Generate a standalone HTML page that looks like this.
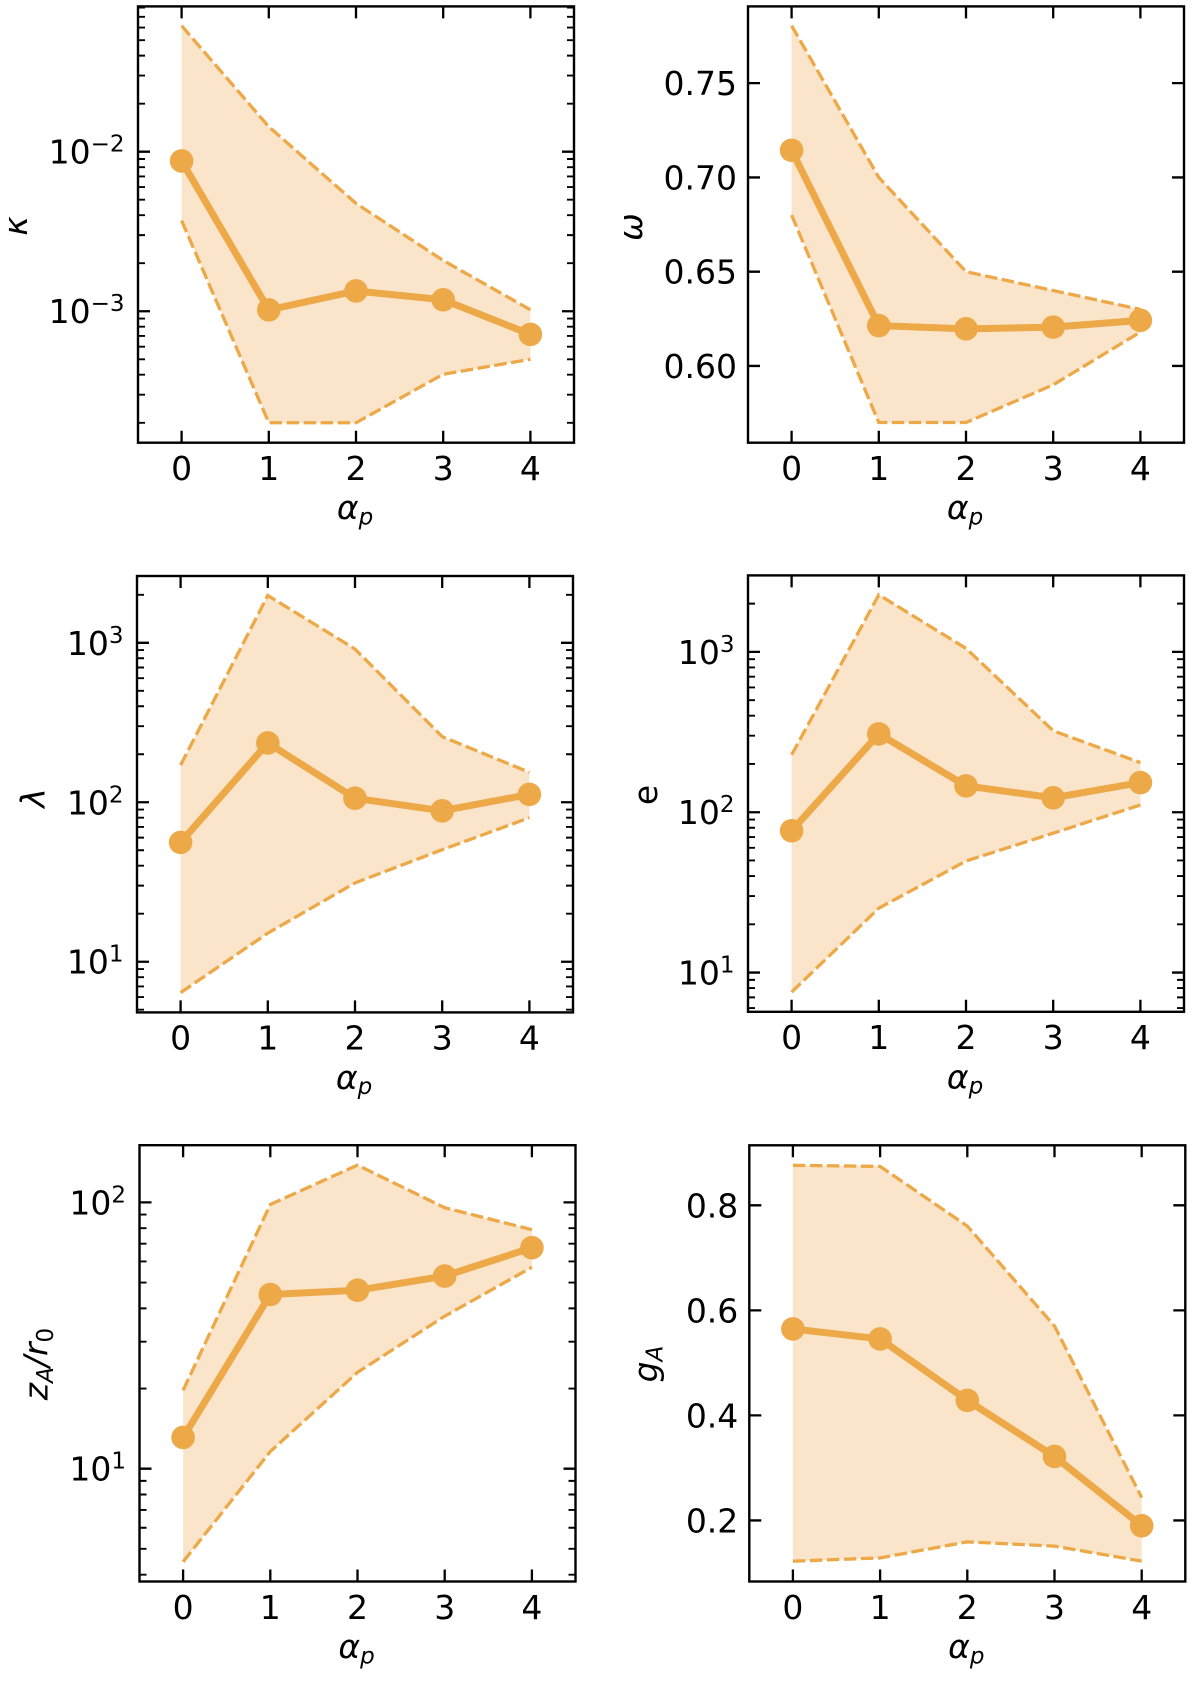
<!DOCTYPE html>
<html lang="en">
<head>
<meta charset="utf-8">
<title>Parameters versus alpha_p</title>
<style>
  html, body { margin: 0; padding: 0; background: #ffffff; }
  svg { display: block; }
  text { font-family: "DejaVu Sans", "Liberation Sans", sans-serif; fill: #000000; }
</style>
</head>
<body>
<svg id="figure" xmlns="http://www.w3.org/2000/svg" width="1200" height="1683" viewBox="0 0 1200 1683"></svg>
<script>
const alphaP = [0, 1, 2, 3, 4];
const xLimits = [-0.5, 4.5];

const kappaMean = [0.00875, 0.00102, 0.00134, 0.00118, 0.000716];
const kappaUpper = [0.0616, 0.01434, 0.00474, 0.00208, 0.00102];
const kappaLower = [0.0037, 0.0002, 0.0002, 0.000403, 0.0005];
const kappaLimits = [0.00015, 0.0814];
const kappaTicks = [-3, -2];

const omegaMean = [0.7144, 0.6214, 0.6197, 0.6206, 0.6242];
const omegaUpper = [0.7805, 0.70, 0.65, 0.64, 0.63];
const omegaLower = [0.68, 0.57, 0.57, 0.59, 0.618];
const omegaLimits = [0.5593, 0.7907];
const omegaTicks = ["0.60", "0.65", "0.70", "0.75"];

const lambdaMean = [56, 235.5, 106, 88.4, 112];
const lambdaUpper = [171, 1980, 914, 258, 154];
const lambdaLower = [6.4, 15.1, 31.2, 50.4, 80];
const lambdaLimits = [4.81, 2624];
const lambdaTicks = [1, 2, 3];

const eMean = [76.6, 308, 146, 123, 153];
const eUpper = [228, 2270, 1052, 322, 204];
const eLower = [7.55, 25.2, 49.6, 74, 111];
const eLimits = [5.69, 3000];
const eTicks = [1, 2, 3];

const zMean = [13.1, 45.1, 46.8, 52.9, 67.6];
const zUpper = [19.7, 98.2, 138, 95.5, 79];
const zLower = [4.47, 11.6, 23, 37.4, 57.1];
const zLimits = [3.77, 164];
const zTicks = [1, 2];

const gMean = [0.5646, 0.5456, 0.4286, 0.3218, 0.1898];
const gUpper = [0.8762, 0.8741, 0.7605, 0.5701, 0.2435];
const gLower = [0.1224, 0.1286, 0.1592, 0.151, 0.1224];
const gLimits = [0.0837, 0.9143];
const gTicks = ["0.2", "0.4", "0.6", "0.8"];

const panels = [
  { id: "kappa", box: [138, 574, 6.4, 442.7], scale: "log", mean: kappaMean, upper: kappaUpper, lower: kappaLower, limits: kappaLimits, ticks: kappaTicks, label: "κ", labelX: 27, labelY: 226 },
  { id: "omega", box: [748, 1184, 6.4, 442.7], scale: "linear", mean: omegaMean, upper: omegaUpper, lower: omegaLower, limits: omegaLimits, ticks: omegaTicks, label: "ω", labelX: 642, labelY: 227 },
  { id: "lambda", box: [137, 573, 576, 1012.4], scale: "log", mean: lambdaMean, upper: lambdaUpper, lower: lambdaLower, limits: lambdaLimits, ticks: lambdaTicks, label: "λ", labelX: 44.5, labelY: 798 },
  { id: "e", box: [748, 1184, 575.4, 1011.8], scale: "log", mean: eMean, upper: eUpper, lower: eLower, limits: eLimits, ticks: eTicks, label: "e", upright: true, labelX: 657, labelY: 795 },
  { id: "z-a", box: [139.5, 575.5, 1145.2, 1581.5], scale: "log", mean: zMean, upper: zUpper, lower: zLower, limits: zLimits, ticks: zTicks, label: "z", sub: "A", tail: "/r", tailSub: "0", labelX: 47.5, labelY: 1364 },
  { id: "g-a", box: [749.3, 1185.3, 1145.3, 1581.5], scale: "linear", mean: gMean, upper: gUpper, lower: gLower, limits: gLimits, ticks: gTicks, label: "g", sub: "A", labelX: 657, labelY: 1364 }
];

const ORANGE = "#eda848";
const FILL = "#fae5ca";
const SVG_NS = "http://www.w3.org/2000/svg";
const figure = document.getElementById("figure");

function make(tag, parent, attrs) {
  const node = document.createElementNS(SVG_NS, tag);
  for (const key in attrs) node.setAttribute(key, attrs[key]);
  parent.appendChild(node);
  return node;
}

function addSpan(parent, text, dy, size, italic) {
  const span = make("tspan", parent, { dy: dy });
  if (size) span.setAttribute("font-size", size);
  span.setAttribute("font-style", italic ? "italic" : "normal");
  span.textContent = text;
  return span;
}

function drawPanel(panel) {
  const [left, right, top, bottom] = panel.box;
  const isLog = panel.scale === "log";
  const xAxis = v => left + (v - xLimits[0]) / (xLimits[1] - xLimits[0]) * (right - left);
  const toY = v => isLog ? Math.log10(v) : v;
  const yMin = toY(panel.limits[0]);
  const yMax = toY(panel.limits[1]);
  const yAxis = v => bottom - (toY(v) - yMin) / (yMax - yMin) * (bottom - top);

  const group = make("g", figure, {});
  
  

  const upperPts = alphaP.map((a, i) => xAxis(a).toFixed(2) + "," + yAxis(panel.upper[i]).toFixed(2));
  const lowerPts = alphaP.map((a, i) => xAxis(a).toFixed(2) + "," + yAxis(panel.lower[i]).toFixed(2));
  const meanPts = alphaP.map((a, i) => xAxis(a).toFixed(2) + "," + yAxis(panel.mean[i]).toFixed(2));

  const band = make("polygon", group, { points: upperPts.concat(lowerPts.slice().reverse()).join(" "), fill: FILL });
  
  

  const upperLine = make("polyline", group, { points: upperPts.join(" "), fill: "none", stroke: ORANGE, "stroke-width": 3.3, "stroke-dasharray": "12.5 4.5" });
  
  

  const lowerLine = make("polyline", group, { points: lowerPts.join(" "), fill: "none", stroke: ORANGE, "stroke-width": 3.3, "stroke-dasharray": "12.5 4.5" });
  
  

  const meanLine = make("polyline", group, { points: meanPts.join(" "), fill: "none", stroke: ORANGE, "stroke-width": 7, "stroke-linejoin": "round" });
  
  

  alphaP.forEach((a, i) => {
    const point = make("circle", group, { cx: xAxis(a).toFixed(2), cy: yAxis(panel.mean[i]).toFixed(2), r: 11.8, fill: ORANGE });
    
    
  });

  alphaP.forEach(a => {
    const x = xAxis(a);
    const tick = make("path", group, { d: `M${x} ${bottom}V${bottom - 12}M${x} ${top}V${top + 12}`, stroke: "#000", "stroke-width": 2.3, fill: "none" });
    
    
    const label = make("text", group, { x: x, y: bottom + 37.3, "font-size": 33, "text-anchor": "middle" });
    
    
    label.textContent = a;
  });

  if (isLog) {
    const firstDecade = Math.floor(yMin);
    const lastDecade = Math.ceil(yMax);
    for (let d = firstDecade; d <= lastDecade; d++) {
      for (let m = 2; m <= 9; m++) {
        const value = m * Math.pow(10, d);
        if (value < panel.limits[0] || value > panel.limits[1]) continue;
        const y = yAxis(value);
        const minor = make("path", group, { d: `M${left} ${y}H${left + 7}M${right} ${y}H${right - 7}`, stroke: "#000", "stroke-width": 1.9, fill: "none" });
        
        
      }
    }
  }

  panel.ticks.forEach(t => {
    const value = isLog ? Math.pow(10, t) : parseFloat(t);
    const y = yAxis(value);
    const tick = make("path", group, { d: `M${left} ${y}H${left + 12}M${right} ${y}H${right - 12}`, stroke: "#000", "stroke-width": 2.3, fill: "none" });
    
    
    const label = make("text", group, { x: left - (isLog ? 13.5 : 11), y: y + 12, "font-size": 33, "text-anchor": "end" });
    
    
    if (isLog) {
      addSpan(label, "10", 0);
      addSpan(label, String(t).replace("-", "−"), -12, 23);
    } else {
      label.textContent = t;
    }
  });

  const frame = make("rect", group, { x: left, y: top, width: right - left, height: bottom - top, fill: "none", stroke: "#000", "stroke-width": 2.4 });
  
  

  const xTitle = make("text", group, { x: (left + right) / 2 - 1, y: bottom + 76.5, "font-size": 33, "text-anchor": "middle" });
  
  
  addSpan(xTitle, "α", 0, 33, true);
  addSpan(xTitle, "p", 5.3, 23, true);

  const yTitle = make("text", group, { transform: `translate(${panel.labelX} ${panel.labelY}) rotate(-90)`, "font-size": 33, "text-anchor": "middle" });
  
  
  addSpan(yTitle, panel.label, 0, 33, !panel.upright);
  if (panel.sub) addSpan(yTitle, panel.sub, 5.3, 23, true);
  if (panel.tail) addSpan(yTitle, panel.tail, -5.3, 33, true);
  if (panel.tailSub) addSpan(yTitle, panel.tailSub, 5.3, 23, false);
}

panels.forEach(drawPanel);
</script>
</body>
</html>
